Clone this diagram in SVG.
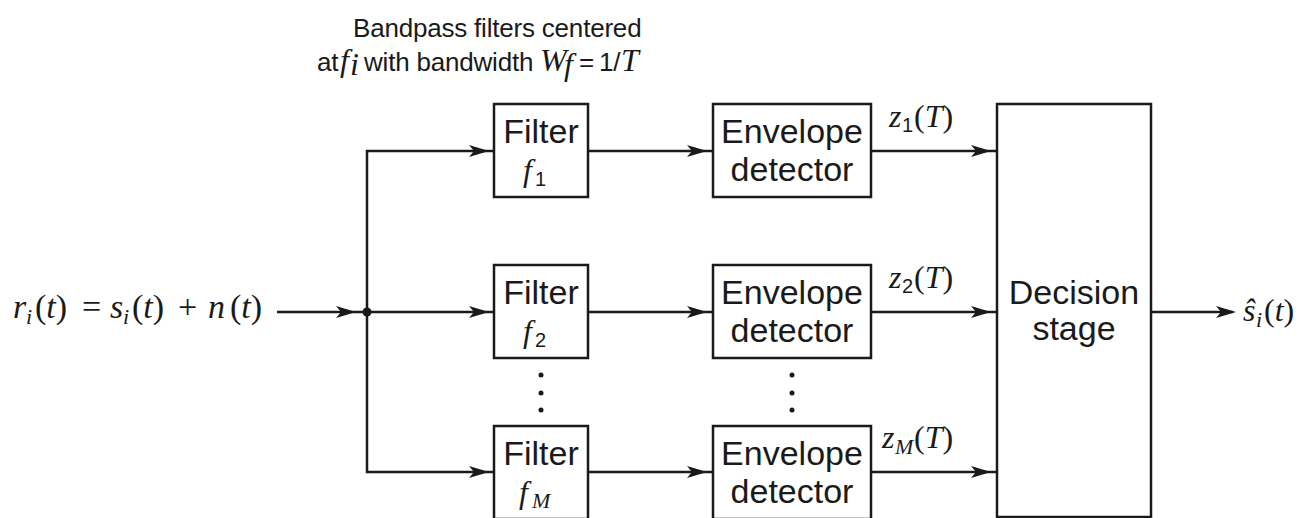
<svg xmlns="http://www.w3.org/2000/svg" xmlns:xlink="http://www.w3.org/1999/xlink" width="1304" height="518" viewBox="0 0 1304 518">
<style>
.box{fill:#fff;stroke:#1a1a1a;stroke-width:2.5}
.ln{fill:none;stroke:#1a1a1a;stroke-width:2.5}
.lbl{font-family:"Liberation Sans",Arial,sans-serif;font-size:34px;fill:#1a1a1a;text-anchor:middle}
.ttl{font-family:"Liberation Sans",Arial,sans-serif;font-size:26px;fill:#1a1a1a;letter-spacing:-0.2px}
.m{font-family:"Liberation Serif","Times New Roman",serif;font-size:32px;fill:#1a1a1a}
.it{font-style:italic}
.sb{font-family:"Liberation Sans",Arial,sans-serif;font-size:20px}
.dot{fill:#1a1a1a}
</style>
<defs>
<path id="ah" d="M0,0 L-20,-6 L-15,0 L-20,6 Z" fill="#1a1a1a"/>
</defs>
<rect width="1304" height="518" fill="#fff"/>

<g id="title">
<text class="ttl" x="353" y="37">Bandpass filters centered</text>
<text class="ttl" y="71"><tspan x="317">at</tspan><tspan class="m it" x="340" font-size="27">f</tspan><tspan class="m it" x="350" y="75" font-size="18">i</tspan><tspan x="364" y="71">with bandwidth</tspan><tspan class="m it" x="540" font-size="27">W</tspan><tspan class="m it" x="564" y="75" font-size="18">f</tspan><tspan x="579" y="71">=</tspan><tspan x="599">1/</tspan><tspan class="m it" x="621" font-size="27">T</tspan></text>
</g>

<g id="connectors">
<path class="ln" d="M277,312 H494" stroke-width="3"/>
<path class="ln" d="M494,151 H367 V472 H494" stroke-width="2.5"/>
<path class="ln" d="M588,151 H713 M588,312 H713 M588,472 H713"/>
<path class="ln" d="M871,151 H997 M871,312 H997 M871,472 H997"/>
<path class="ln" d="M1151,312 H1233"/>
<circle class="dot" cx="367" cy="312" r="4.5"/>
<use xlink:href="#ah" x="356" y="312"/>
<use xlink:href="#ah" x="489" y="151"/>
<use xlink:href="#ah" x="489" y="312"/>
<use xlink:href="#ah" x="489" y="472"/>
<use xlink:href="#ah" x="707" y="151"/>
<use xlink:href="#ah" x="707" y="312"/>
<use xlink:href="#ah" x="707" y="472"/>
<use xlink:href="#ah" x="991" y="151"/>
<use xlink:href="#ah" x="991" y="312"/>
<use xlink:href="#ah" x="991" y="472"/>
<use xlink:href="#ah" x="1236" y="312"/>
</g>

<g id="input-label">
<text class="m"><tspan class="it" x="13" y="318" font-size="34">r</tspan><tspan class="it" x="26" y="324" font-size="22">i</tspan><tspan x="35" y="318" font-size="34">(</tspan><tspan class="it" font-size="34">t</tspan><tspan font-size="34">)</tspan><tspan x="82" y="318" font-size="34">=</tspan><tspan class="it" x="110" y="318" font-size="34">s</tspan><tspan class="it" x="123" y="324" font-size="22">i</tspan><tspan x="132" y="318" font-size="34">(</tspan><tspan class="it" font-size="34">t</tspan><tspan font-size="34">)</tspan><tspan x="178" y="318" font-size="34">+</tspan><tspan class="it" x="208" y="318" font-size="34">n</tspan><tspan x="230" y="318" font-size="34">(</tspan><tspan class="it" font-size="34">t</tspan><tspan font-size="34">)</tspan></text>
</g>

<g id="filter1">
<rect class="box" x="494" y="104" width="94" height="93"/>
<text class="lbl" x="541" y="143">Filter</text>
<text class="m"><tspan class="it" x="523" y="181">f</tspan><tspan class="sb" x="535" y="186">1</tspan></text>
</g>
<g id="filter2">
<rect class="box" x="494" y="265" width="94" height="93"/>
<text class="lbl" x="541" y="304">Filter</text>
<text class="m"><tspan class="it" x="523" y="342">f</tspan><tspan class="sb" x="535" y="347">2</tspan></text>
</g>
<g id="filterM">
<rect class="box" x="494" y="426" width="94" height="93"/>
<text class="lbl" x="541" y="465">Filter</text>
<text class="m"><tspan class="it" x="519" y="503">f</tspan><tspan class="it" x="532" y="508" font-size="22">M</tspan></text>
</g>

<g id="env1">
<rect class="box" x="713" y="104" width="158" height="93"/>
<text class="lbl" x="792" y="143">Envelope</text>
<text class="lbl" x="792" y="181">detector</text>
</g>
<g id="env2">
<rect class="box" x="713" y="265" width="158" height="93"/>
<text class="lbl" x="792" y="304">Envelope</text>
<text class="lbl" x="792" y="342">detector</text>
</g>
<g id="envM">
<rect class="box" x="713" y="426" width="158" height="93"/>
<text class="lbl" x="792" y="465">Envelope</text>
<text class="lbl" x="792" y="503">detector</text>
</g>

<g id="ellipsis">
<circle class="dot" cx="541" cy="375" r="2.5"/>
<circle class="dot" cx="541" cy="393" r="2.5"/>
<circle class="dot" cx="541" cy="410" r="2.5"/>
<circle class="dot" cx="792" cy="375" r="2.5"/>
<circle class="dot" cx="792" cy="393" r="2.5"/>
<circle class="dot" cx="792" cy="410" r="2.5"/>
</g>

<g id="z-labels">
<text class="m"><tspan class="it" x="889" y="127">z</tspan><tspan class="sb" x="902" y="132">1</tspan><tspan x="914" y="127">(</tspan><tspan class="it">T</tspan><tspan>)</tspan></text>
<text class="m"><tspan class="it" x="889" y="288">z</tspan><tspan class="sb" x="902" y="293">2</tspan><tspan x="914" y="288">(</tspan><tspan class="it">T</tspan><tspan>)</tspan></text>
<text class="m"><tspan class="it" x="882" y="448">z</tspan><tspan class="it" x="895" y="454" font-size="22">M</tspan><tspan x="914" y="448">(</tspan><tspan class="it">T</tspan><tspan>)</tspan></text>
</g>

<g id="decision">
<rect class="box" x="997" y="104" width="154" height="413"/>
<text class="lbl" x="1074" y="304">Decision</text>
<text class="lbl" x="1074" y="340">stage</text>
</g>

<g id="output-label">
<text class="m"><tspan class="it" x="1243" y="321" font-size="32">ŝ</tspan><tspan class="it" x="1256" y="327" font-size="22">i</tspan><tspan x="1264" y="321" font-size="32">(</tspan><tspan class="it" font-size="32">t</tspan><tspan font-size="32">)</tspan></text>
</g>
</svg>
